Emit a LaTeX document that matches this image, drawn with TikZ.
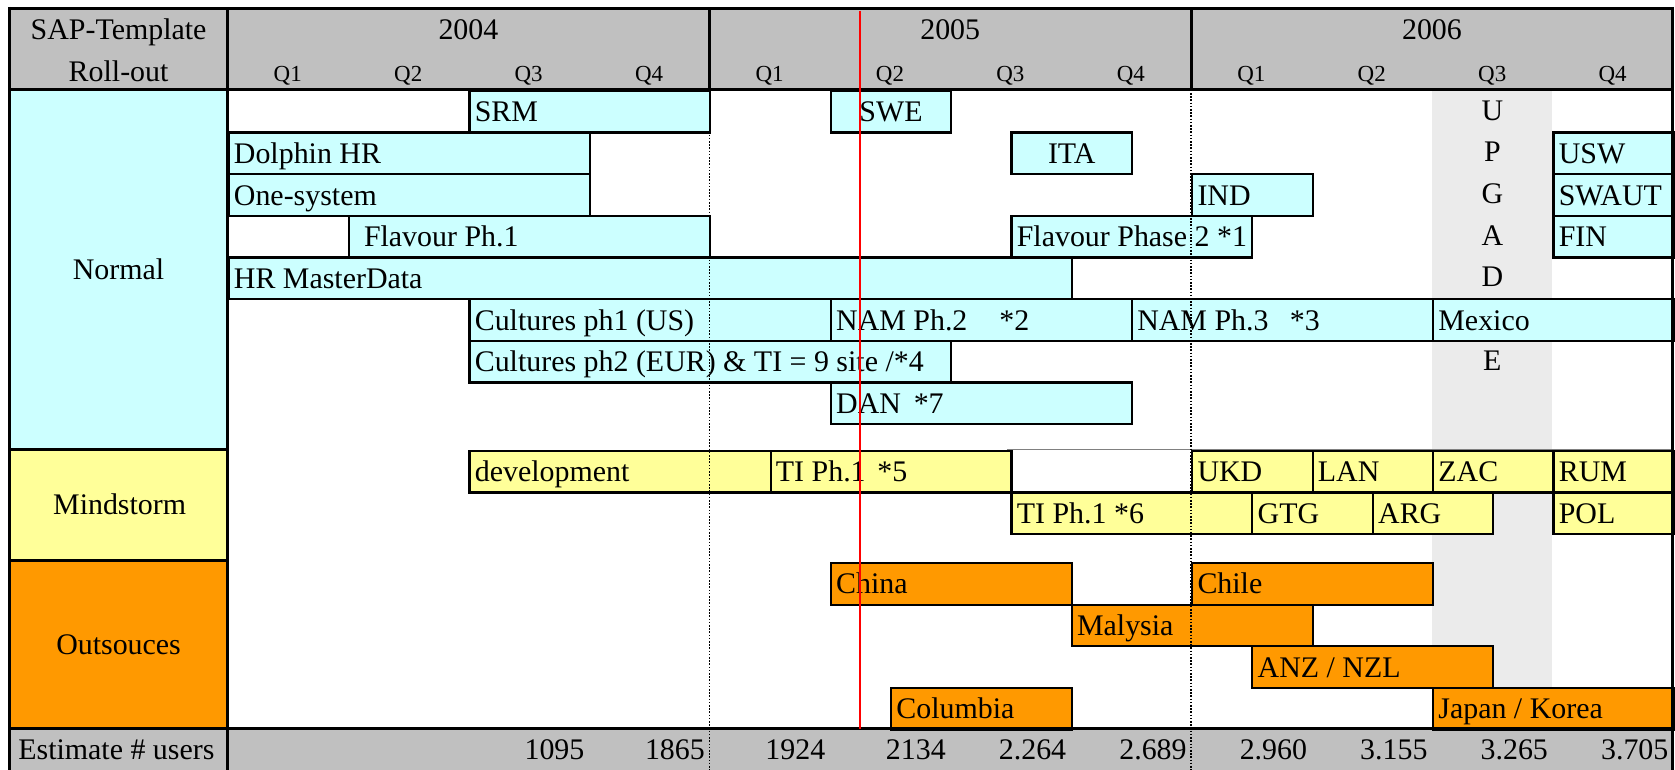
\documentclass[tikz,border=0pt]{standalone}
\usepackage{fontspec}
\setmainfont{Liberation Serif}
\definecolor{cyanfill}{HTML}{CCFFFF}
\definecolor{yelfill}{HTML}{FFFF99}
\definecolor{orfill}{HTML}{FF9900}
\definecolor{hdrgray}{HTML}{C0C0C0}
\definecolor{shadegray}{HTML}{EBEBEB}
\newcommand\bodyfont{\fontsize{28}{31}\selectfont}
\newcommand\qfont{\fontsize{21.5}{25}\selectfont}
\tikzset{
  gbox/.style={draw=black, line width=2pt, inner xsep=5pt, inner ysep=0pt,
    minimum height=39pt, text height=25pt, text depth=6pt, font=\bodyfont},
  lbl/.style={inner sep=0pt, font=\bodyfont},
  qlbl/.style={inner sep=0pt, font=\qfont},
  gridline/.style={line width=3pt, black},
  yearline/.style={line width=1.5pt, black, dash pattern=on 1.5pt off 1.5pt},
  redline/.style={line width=1.6pt, red},
}
\newcommand\gbar[7]{%
  \pgfmathsetmacro\gbxa{213+56.375*(#2)}%
  \pgfmathsetmacro\gbbw{56.375*((#3)-(#2))}%
  \pgfmathsetmacro\gbtw{\gbbw-10}%
  \node[gbox, fill=#5, minimum width=\gbbw pt, anchor=north west] (#1) at (\gbxa,#4) {\makebox[\gbtw pt][#6]{#7}};%
}
\begin{document}
\begin{tikzpicture}[x=1pt,y=-1pt]
\useasboundingbox (0,0) rectangle (1568,720);
\clip (0,0) rectangle (1568,720);
% backgrounds
\fill[hdrgray] (9,8) rectangle (1566,84);
\fill[hdrgray] (9,682) rectangle (1566,724);
\fill[cyanfill] (9,84) rectangle (213,421);
\fill[yelfill] (9,421) rectangle (213,525);
\fill[orfill] (9,525) rectangle (213,682);
\fill[shadegray] (1340.5,84) rectangle (1453.25,682);
\draw[gray, line width=1pt] (942.6,421) -- (1566,421);
% Normal
\gbar{srm}{4}{8}{84}{cyanfill}{l}{SRM}
\gbar{swe}{10}{12}{84}{cyanfill}{c}{SWE}
\gbar{dolphin}{0}{6}{123}{cyanfill}{l}{Dolphin HR}
\gbar{ita}{13}{15}{123}{cyanfill}{c}{ITA}
\gbar{usw}{22}{24}{123}{cyanfill}{l}{USW}
\gbar{onesys}{0}{6}{162}{cyanfill}{l}{One-system}
\gbar{ind}{16}{18}{162}{cyanfill}{l}{IND}
\gbar{swaut}{22}{24}{162}{cyanfill}{l}{SWAUT}
\gbar{flav1}{2}{8}{201}{cyanfill}{l}{\hspace*{9pt}Flavour Ph.1}
\gbar{flav2}{13}{17}{201}{cyanfill}{l}{Flavour Phase 2 *1}
\gbar{fin}{22}{24}{201}{cyanfill}{l}{FIN}
\gbar{hrmd}{0}{14}{240}{cyanfill}{l}{HR MasterData}
\gbar{cult1}{4}{10}{279}{cyanfill}{l}{Cultures ph1 (US)}
\gbar{nam2}{10}{15}{279}{cyanfill}{l}{NAM Ph.2\hspace{30pt}*2}
\gbar{nam3}{15}{20}{279}{cyanfill}{l}{NAM Ph.3\hspace{20pt}*3}
\gbar{mexico}{20}{24}{279}{cyanfill}{l}{Mexico}
\gbar{cult2}{4}{12}{318}{cyanfill}{l}{Cultures ph2 (EUR) \& TI = 9 site /*4}
\gbar{dan}{10}{15}{357}{cyanfill}{l}{DAN\hspace{12pt}*7}
% Mindstorm
\gbar{dev}{4}{9}{421}{yelfill}{l}{development}
\gbar{tifive}{9}{13}{421}{yelfill}{l}{TI Ph.1\hspace{11pt}*5}
\gbar{ukd}{16}{18}{421}{yelfill}{l}{UKD}
\gbar{lan}{18}{20}{421}{yelfill}{l}{LAN}
\gbar{zac}{20}{22}{421}{yelfill}{l}{ZAC}
\gbar{rum}{22}{24}{421}{yelfill}{l}{RUM}
\gbar{tisix}{13}{17}{460}{yelfill}{l}{TI Ph.1 *6}
\gbar{gtg}{17}{19}{460}{yelfill}{l}{GTG}
\gbar{arg}{19}{21}{460}{yelfill}{l}{ARG}
\gbar{pol}{22}{24}{460}{yelfill}{l}{POL}
% Outsources
\gbar{china}{10}{14}{526}{orfill}{l}{China}
\gbar{chile}{16}{20}{526}{orfill}{l}{Chile}
\gbar{malysia}{14}{18}{565}{orfill}{l}{Malysia}
\gbar{anz}{17}{21}{604}{orfill}{l}{ANZ / NZL}
\gbar{columbia}{11}{14}{643}{orfill}{l}{Columbia}
\gbar{japan}{20}{24}{643}{orfill}{l}{Japan / Korea}
% upgrade letters
\foreach \l/\yb [count=\n] in {U/112.5,P/151.5,G/190.5,A/229.5,D/268.5,E/346.5}
  \node[lbl, anchor=base] (up\n) at (1397,\yb) {\l};
% year dotted lines
\draw[yearline] (664,84) -- (664,724);
\draw[yearline] (1115,84) -- (1115,724);
% grid lines
\draw[gridline] (9,8) -- (1566,8);
\draw[gridline] (9,6.5) -- (9,724);
\draw[gridline] (1566,6.5) -- (1566,724);
\draw[gridline] (213,8) -- (213,724);
\draw[gridline] (9,84) -- (1566,84);
\draw[gridline] (9,682) -- (1566,682);
\draw[gridline] (9,421) -- (213,421);
\draw[gridline] (9,525) -- (213,525);
\draw[gridline] (664,8) -- (664,84);
\draw[gridline] (1115,8) -- (1115,84);
% header texts
\node[lbl, anchor=base] (hsap) at (111,37) {SAP-Template};
\node[lbl, anchor=base] (hroll) at (111,76) {Roll-out};
\node[lbl, anchor=base] (y2004) at (438.5,37) {2004};
\node[lbl, anchor=base] (y2005) at (889.5,37) {2005};
\node[lbl, anchor=base] (y2006) at (1340.5,37) {2006};
\foreach \i [evaluate=\i as \q using {int(mod(\i,4)+1)}] in {0,...,11}
  \node[qlbl, anchor=base] (q\i) at ({213+112.75*(\i+0.5)},76) {Q\q};
% left labels
\node[lbl, anchor=base] (lnormal) at (111,261.5) {Normal};
\node[lbl, anchor=base] (lmind) at (112,482) {Mindstorm};
\node[lbl, anchor=base] (lout) at (111,612.5) {Outsouces};
\node[lbl, anchor=base west] (lest) at (17,711) {Estimate \# users};
\foreach \k/\v in {3/1095,4/1865,5/1924,6/2134,7/2.264,8/2.689,9/2.960,10/3.155,11/3.265,12/3.705}
  \node[lbl, anchor=base east] (est\k) at ({213+112.75*\k-4},711) {\v};
% today line
\draw[redline] (805,10) -- (805,682);
\end{tikzpicture}
\end{document}
